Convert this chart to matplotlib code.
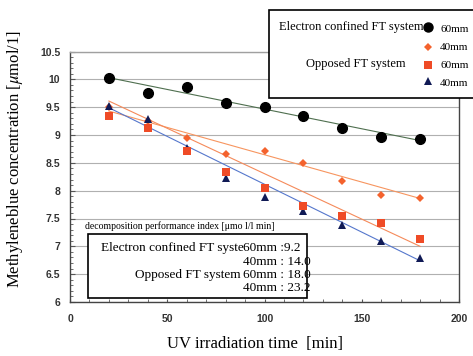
import matplotlib
matplotlib.use("Agg")
import matplotlib.pyplot as plt
from matplotlib.patches import Rectangle
import numpy as np

plt.rcParams['mathtext.fontset'] = 'stix'

# UV irradiation time [min]
time_min = [20, 40, 60, 80, 100, 120, 140, 160, 180]

# Methyleneblue concentration [umol/l]
ec_60 = [10.03, 9.75, 9.86, 9.57, 9.51, 9.34, 9.12, 8.97, 8.92]   # electron confined 60mm
ec_40 = [9.50, 9.25, 8.95, 8.66, 8.71, 8.49, 8.17, 7.92, 7.87]    # electron confined 40mm
op_60 = [9.34, 9.12, 8.72, 8.33, 8.04, 7.73, 7.54, 7.42, 7.14]    # opposed 60mm
op_40 = [9.52, 9.28, 8.77, 8.22, 7.89, 7.64, 7.39, 7.09, 6.79]    # opposed 40mm

# trend lines: value at t=20 and t=180
trend_t = [20, 180]
trend_ec_60 = [10.03, 8.90]
trend_ec_40 = [9.43, 7.86]
trend_op_60 = [9.61, 7.00]
trend_op_40 = [9.49, 6.74]

index_labels = ["60mm :9.2", "40mm : 14.0", "60mm : 18.0", "40mm : 23.2"]

W, H = 473, 356
fig = plt.figure(figsize=(W / 100, H / 100), dpi=100)
ax = fig.add_axes([70 / W, 1 - 302 / H, 389 / W, 250.5 / H])

serif = 'Liberation Serif'

ax.plot(trend_t, trend_ec_60, color='#4f6f4f', lw=0.8, zorder=2)
ax.plot(trend_t, trend_ec_40, color='#f7955f', lw=0.8, zorder=2)
ax.plot(trend_t, trend_op_60, color='#f58a5a', lw=0.8, zorder=2)
ax.plot(trend_t, trend_op_40, color='#5577cc', lw=0.8, zorder=2)

ax.plot(time_min, ec_60, 'o', color='black', ms=7, zorder=3)
ax.plot(time_min, ec_40, 'D', color='#f4622d', ms=4.5, mew=0, zorder=3)
ax.plot(time_min, op_40, '^', color='#101a55', ms=6, mew=0, zorder=4)
ax.plot(time_min, op_60, 's', color='#ef4b26', ms=6, mew=0, zorder=5)

ax.set_xlim(0, 200)
ax.set_ylim(6, 10.5)
ax.set_xticks([0, 50, 100, 150, 200])
ax.set_xticks(np.arange(0, 201, 10), minor=True)
ax.set_yticks(np.arange(6, 10.51, 0.5))
ax.set_yticks(np.arange(6, 10.51, 0.1), minor=True)
ax.set_yticklabels(['6', '6.5', '7', '7.5', '8', '8.5', '9', '9.5', '10', '10.5'])
ax.yaxis.grid(True, color='#b0b0b0', lw=0.8)
ax.set_axisbelow(True)

ax.tick_params(axis='both', which='both', direction='in', colors='#555555',
               labelcolor='#333333', labelsize=7.5)
ax.tick_params(axis='y', which='major', length=3.5, pad=7)
ax.tick_params(axis='y', which='minor', length=2)
ax.tick_params(axis='x', which='both', length=2.5, pad=8.5)
for lab in ax.get_xticklabels() + ax.get_yticklabels():
    lab.set_fontweight('bold')
    lab.set_family('Liberation Sans')
for s in ax.spines.values():
    s.set_color('#444444')
    s.set_linewidth(1)
ax.spines['top'].set_color('#a0a0a0')

ax.set_xlabel("UV irradiation time  [min]", family=serif, fontsize=12)
ax.xaxis.set_label_coords(0.476, -0.168)
ax.xaxis.label.set_va('center')
ax.set_ylabel(r"Methyleneblue concentration [$\mu$mol/1]", family=serif, fontsize=12)
ax.yaxis.set_label_coords(-0.141, 0.571)
ax.yaxis.label.set_va('center')

# overlay in pixel coordinates for the two text boxes
ov = fig.add_axes([0, 0, 1, 1])
ov.set_xlim(0, W)
ov.set_ylim(H, 0)
ov.axis('off')
ov.patch.set_alpha(0)

# legend box, top right
ov.add_patch(Rectangle((269, 10), 210, 88, facecolor='white', edgecolor='black', lw=1.2))
ov.text(423, 27, "Electron confined FT system", family=serif, fontsize=9,
        ha='right', va='center')
ov.text(405, 64, "Opposed FT system", family=serif, fontsize=9, ha='right', va='center')
ov.plot(428, 27, 'o', color='black', ms=6.5)
ov.plot(428, 47, 'D', color='#f4622d', ms=4.5, mew=0)
ov.plot(428, 65, 's', color='#ef4b26', ms=5.5, mew=0)
ov.plot(428, 81, '^', color='#101a55', ms=5.5, mew=0)
for yy, t in zip([29, 48, 66, 83], ["60mm", "40mm", "60mm", "40mm"]):
    ov.text(440, yy, t, family=serif, fontsize=8, ha='left', va='center')

# decomposition performance index box
ov.text(85, 226, "decomposition performance index [\u03bcmo l/l min]", family=serif,
        fontsize=7, ha='left', va='center')
ov.add_patch(Rectangle((88, 234), 219, 64, facecolor='white', edgecolor='black', lw=1.2))
ov.text(101, 248, "Electron confined FT syste", family=serif, fontsize=9.5,
        ha='left', va='center')
ov.text(241, 275, "Opposed FT system", family=serif, fontsize=9.5, ha='right', va='center')
for yy, t in zip([248, 262, 275, 288], index_labels):
    ov.text(243, yy, t, family=serif, fontsize=9.5, ha='left', va='center')

fig.savefig("out.png", dpi=100)
